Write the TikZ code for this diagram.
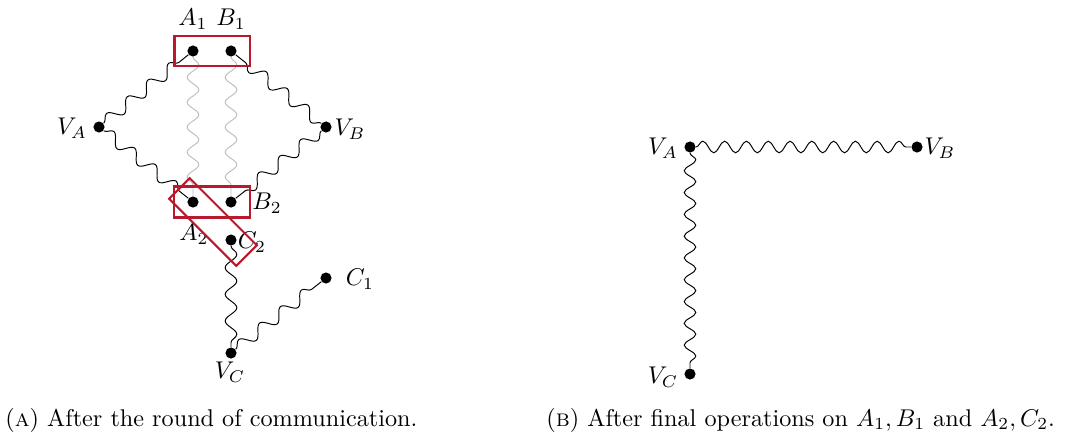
\documentclass[tikz,border=0pt]{standalone}
\usetikzlibrary{decorations.pathmorphing}
\definecolor{boxred}{RGB}{185,25,45}
\begin{document}
\begin{tikzpicture}[x=0.413pt,y=-0.413pt,
  dot/.style={circle,fill=black,inner sep=0pt,minimum size=4.6pt},
  lbl/.style={inner sep=0pt},
  wavyL/.style={decorate,decoration={snake,amplitude=2.4pt,segment length=11pt},line width=0.4pt},
  wavyG/.style={decorate,decoration={snake,amplitude=2.4pt,segment length=10.3pt},line width=0.4pt,black!25},
  wavyR/.style={decorate,decoration={snake,amplitude=2.4pt,segment length=9pt},line width=0.4pt},
  redbox/.style={draw=boxred,line width=0.85pt,inner sep=0pt},
  captext/.style={inner sep=0pt,anchor=base west}]
\useasboundingbox (0,0) rectangle (1069,439);
% left panel dots
\node[dot] (A1) at (193,51) {};
\node[dot] (B1) at (231,51) {};
\node[dot] (VA) at (99,127) {};
\node[dot] (VB) at (326,127) {};
\node[dot] (A2) at (193,202) {};
\node[dot] (B2) at (231,202) {};
\node[dot] (C2) at (231,240) {};
\node[dot] (C1) at (326,278) {};
\node[dot] (VC) at (231,353) {};
% labels
\node[lbl] at (193,19) {$A_1$};
\node[lbl] at (231,19) {$B_1$};
\node[lbl] at (72,128) {$V_A$};
\node[lbl] at (350,129) {$V_B$};
\node[lbl] at (267,203) {$B_2$};
\node[lbl] at (194,234) {$A_2$};
\node[lbl] at (252,242) {$C_2$};
\node[lbl] at (360,279) {$C_1$};
\node[lbl] at (230,372) {$V_C$};
% gray links
\draw[wavyG] (A1) -- (A2);
\draw[wavyG] (B1) -- (B2);
% black links
\draw[wavyL] (VA) -- (A1);
\draw[wavyL] (VA) -- (A2);
\draw[wavyL] (VB) -- (B1);
\draw[wavyL] (VB) -- (B2);
\draw[wavyL] (C2) -- (VC);
\draw[wavyL] (VC) -- (C1);
% red boxes
\node[redbox,minimum width=31pt,minimum height=12.4pt] (boxAB1) at (212,51) {};
\node[redbox,minimum width=31.4pt,minimum height=12.8pt] (boxAB2) at (212,202) {};
\node[redbox,minimum width=39.2pt,minimum height=12pt,rotate=-45] (boxAC2) at (213,222) {};
% right panel
\node[dot] (RA) at (690,147) {};
\node[dot] (RB) at (917,147) {};
\node[dot] (RC) at (690,374) {};
\node[lbl] at (663,148) {$V_A$};
\node[lbl] at (940,148) {$V_B$};
\node[lbl] at (663,377) {$V_C$};
\draw[wavyR] (RA) -- (RB);
\draw[wavyR] (RA) -- (RC);
% captions
\node[captext] (capA) at (5,426) {(\textsc{a}) After the round of communication.};
\node[captext] (capB) at (546,426) {(\textsc{b}) After final operations on $A_1,B_1$ and $A_2,C_2$.};
\end{tikzpicture}
\end{document}
